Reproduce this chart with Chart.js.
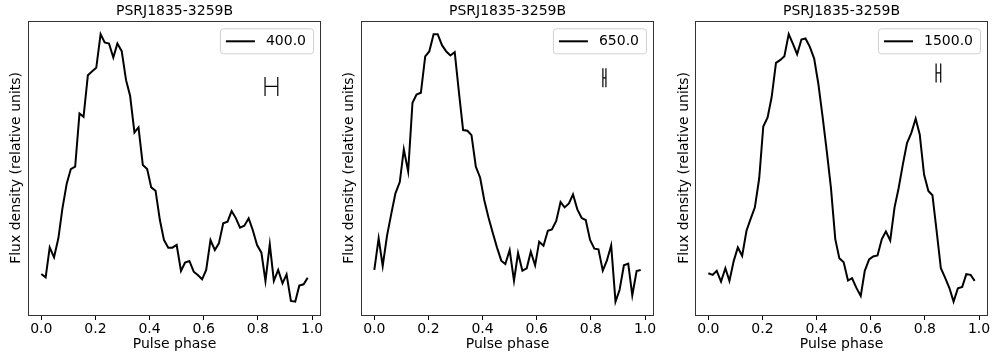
<!DOCTYPE html>
<html>
<head>
<meta charset="utf-8">
<script src="https://cdn.jsdelivr.net/npm/chart.js@4.4.0/dist/chart.umd.min.js"></script>
<style>
  body { margin: 0; background: #fff; }
  #wrap { position: relative; width: 992px; height: 360px; background: #fff; }
  .panel { position: absolute; top: 0; }
</style>
</head>
<body>
<div id="wrap">
  <canvas class="panel" id="profile-1" width="330" height="360" style="left:0px"></canvas>
  <canvas class="panel" id="profile-2" width="330" height="360" style="left:330px"></canvas>
  <canvas class="panel" id="profile-3" width="332" height="360" style="left:660px"></canvas>
</div>
<script>
const pulsar = "PSRJ1835-3259B";
const freqs = [400.0, 650.0, 1500.0];

// pulse phase of each bin (64 bins)
const phase = [0.000, 0.016, 0.031, 0.047, 0.063, 0.078, 0.094, 0.109,
  0.125, 0.141, 0.156, 0.172, 0.188, 0.203, 0.219, 0.234,
  0.250, 0.266, 0.281, 0.297, 0.313, 0.328, 0.344, 0.359,
  0.375, 0.391, 0.406, 0.422, 0.438, 0.453, 0.469, 0.484,
  0.500, 0.516, 0.531, 0.547, 0.563, 0.578, 0.594, 0.609,
  0.625, 0.641, 0.656, 0.672, 0.688, 0.703, 0.719, 0.734,
  0.750, 0.766, 0.781, 0.797, 0.813, 0.828, 0.844, 0.859,
  0.875, 0.891, 0.906, 0.922, 0.938, 0.953, 0.969, 0.984];

// flux density, relative units
const flux400 = [12.8, 11.8, 20.8, 17.8, 23.5, 32.5, 40.0, 44.3, 45.0, 61.0, 60.0, 72.5, 73.7, 74.7, 84.8, 82.3,
  82.0, 77.8, 82.0, 79.7, 71.0, 66.3, 55.3, 56.8, 45.5, 44.3, 38.8, 37.8, 29.0, 23.0, 20.7, 20.7,
  21.5, 13.7, 16.2, 16.7, 13.5, 12.5, 11.2, 14.0, 23.0, 20.0, 22.0, 28.0, 28.5, 31.7, 29.5, 26.7,
  27.3, 29.5, 26.0, 21.5, 19.2, 10.7, 21.7, 10.7, 14.0, 10.0, 12.7, 4.7, 4.5, 9.3, 9.7, 11.7];

const flux650 = [14.0, 23.5, 15.2, 24.3, 31.0, 37.0, 40.4, 50.2, 43.6, 64.2, 66.7, 67.2, 78.1, 79.6, 84.8, 84.8,
  81.5, 79.6, 78.4, 79.4, 67.0, 56.0, 55.8, 54.5, 45.0, 41.7, 35.0, 29.7, 25.0, 20.8, 16.8, 15.8,
  20.0, 10.8, 19.1, 13.8, 14.5, 19.5, 15.4, 22.5, 21.3, 25.8, 26.2, 28.7, 34.4, 32.8, 34.0, 36.7,
  32.2, 29.6, 29.0, 23.0, 20.4, 20.2, 13.8, 16.8, 21.4, 4.5, 8.0, 15.4, 15.9, 6.4, 13.7, 14.0];

const flux1500 = [13.3, 12.8, 14.0, 10.8, 14.8, 11.0, 17.0, 21.0, 18.5, 26.0, 29.5, 33.0, 41.7, 57.2, 59.9, 66.0,
  76.2, 77.1, 78.2, 84.8, 81.8, 78.8, 83.2, 83.5, 81.0, 77.5, 70.2, 60.2, 49.5, 38.8, 23.5, 17.8,
  16.6, 11.1, 11.8, 8.9, 6.5, 14.0, 17.4, 18.3, 18.6, 23.5, 25.8, 23.1, 33.0, 38.7, 46.0, 52.2,
  55.3, 59.5, 54.8, 42.8, 37.9, 36.6, 25.5, 14.8, 11.9, 8.8, 4.8, 8.8, 9.2, 13.0, 12.8, 11.0];

const phaseTicks = [0.0, 0.2, 0.4, 0.6, 0.8, 1.0];

// phase resolution marker for each frequency
const errPhase = [0.85, 0.85, 0.85];
const errHalfWidth = [0.0235, 0.0056, 0.0085];
const errFlux = [69.1, 71.7, 73.2];

const FONT = "'DejaVu Sans', sans-serif";
const font14 = { family: FONT, size: 14, weight: 'normal' };

// matplotlib style 5% margins
function padRange(vals) {
  const lo = Math.min(...vals), hi = Math.max(...vals);
  const m = (hi - lo) * 0.05;
  return [lo - m, hi + m];
}

const framePlugin = {
  id: 'frame',
  afterDraw(chart) {
    const { ctx, chartArea: a } = chart;
    ctx.save();
    ctx.strokeStyle = '#333';
    ctx.lineWidth = 1;
    ctx.strokeRect(Math.round(a.left) + 0.5, Math.round(a.top) + 0.5,
      Math.round(a.right - a.left) - 1, Math.round(a.bottom - a.top));
    ctx.restore();
  }
};

const errbarPlugin = {
  id: 'errbar',
  afterDatasetsDraw(chart, args, opts) {
    const { ctx, scales: { x, y } } = chart;
    const x0 = x.getPixelForValue(opts.x - opts.dx);
    const x1 = x.getPixelForValue(opts.x + opts.dx);
    const yc = y.getPixelForValue(opts.y);
    const cap = 9.5;
    ctx.save();
    ctx.strokeStyle = '#000';
    ctx.lineWidth = 1.2;
    ctx.beginPath();
    ctx.moveTo(x0, yc); ctx.lineTo(x1, yc);
    ctx.moveTo(x0, yc - cap); ctx.lineTo(x0, yc + cap);
    ctx.moveTo(x1, yc - cap); ctx.lineTo(x1, yc + cap);
    ctx.stroke();
    ctx.restore();
  }
};

const boxLegendPlugin = {
  id: 'boxLegend',
  afterDraw(chart) {
    const { ctx, chartArea: a } = chart;
    const label = chart.data.datasets[0].label;
    ctx.save();
    ctx.font = '14px ' + FONT;
    const tw = ctx.measureText(label).width;
    const w = 6 + 29 + 11 + tw + 7;
    const h = 25;
    const bx = a.right - 8 - w, by = a.top + 7.5;
    ctx.beginPath();
    ctx.roundRect(bx + 0.5, by + 0.5, w, h, 3);
    ctx.fillStyle = 'rgba(255,255,255,0.8)';
    ctx.fill();
    ctx.strokeStyle = '#d0d0d0';
    ctx.lineWidth = 1;
    ctx.stroke();
    const cy = by + h / 2 + 0.5;
    ctx.beginPath();
    ctx.moveTo(bx + 6, cy); ctx.lineTo(bx + 35, cy);
    ctx.strokeStyle = '#000';
    ctx.lineWidth = 2;
    ctx.stroke();
    ctx.fillStyle = '#000';
    ctx.textBaseline = 'middle';
    ctx.fillText(label, bx + 46, cy + 0.5);
    ctx.restore();
  }
};

function makeProfile(id, k, flux, yAxisW, padRight, yTitlePad) {
  const [xMin, xMax] = padRange(phase);
  const [yMin, yMax] = padRange(flux);
  new Chart(document.getElementById(id), {
    type: 'line',
    data: {
      datasets: [{
        label: freqs[k].toFixed(1),
        data: phase.map((p, i) => ({ x: p, y: flux[i] })),
        borderColor: '#000',
        borderWidth: 2,
        pointRadius: 0,
        tension: 0,
        fill: false,
      }],
    },
    options: {
      responsive: false,
      animation: false,
      layout: { padding: { left: 0, right: padRight, top: 0, bottom: 0 } },
      plugins: {
        legend: { display: false },
        tooltip: { enabled: false },
        title: {
          display: true, text: pulsar, fullSize: false, color: '#000',
          font: font14, padding: { top: 3, bottom: 1 },
        },
        errbar: { x: errPhase[k], dx: errHalfWidth[k], y: errFlux[k] },
      },
      scales: {
        x: {
          type: 'linear', min: xMin, max: xMax,
          afterBuildTicks: s => { s.ticks = phaseTicks.map(v => ({ value: v })); },
          afterFit: s => { s.height = 45; },
          ticks: { color: '#000', font: font14, padding: 1, maxRotation: 0, autoSkip: false,
            callback: v => Number(v).toFixed(1) },
          grid: { display: true, drawOnChartArea: false, drawTicks: true, tickLength: 5,
            color: '#000', lineWidth: 1 },
          border: { display: false },
          title: { display: true, text: 'Pulse phase', color: '#000', font: font14,
            padding: { top: 0, bottom: 7 } },
        },
        y: {
          min: yMin, max: yMax,
          ticks: { display: false },
          grid: { display: false },
          border: { display: false },
          afterFit: s => { s.width = yAxisW; },
          title: { display: true, text: 'Flux density (relative units)', color: '#000', font: font14,
            padding: { top: yTitlePad, bottom: 0 } },
        },
      },
    },
    plugins: [framePlugin, errbarPlugin, boxLegendPlugin],
  });
}

makeProfile('profile-1', 0, flux400, 28, 9, 8);
makeProfile('profile-2', 1, flux650, 31, 6, 11);
makeProfile('profile-3', 2, flux1500, 35, 4, 16);
</script>
</body>
</html>
